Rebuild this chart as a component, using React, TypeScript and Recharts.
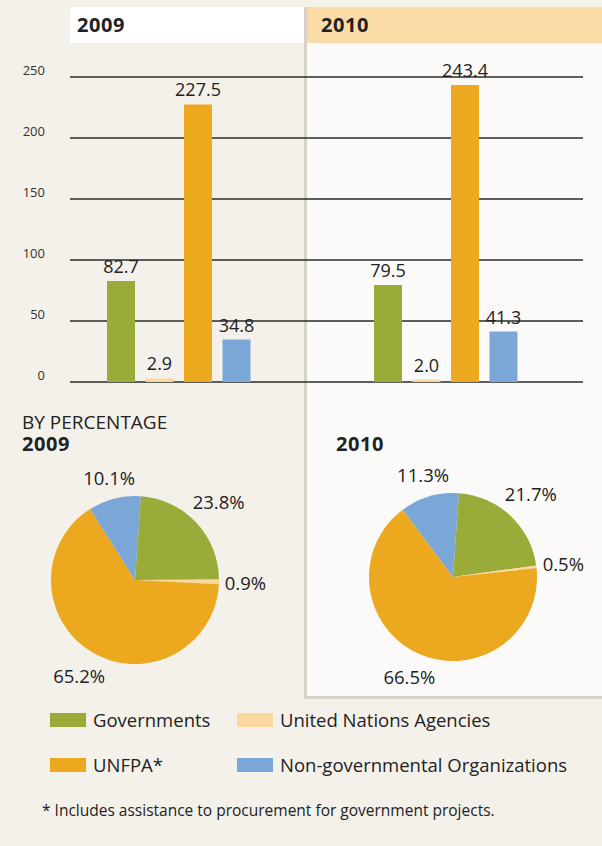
import { Bar, BarChart, CartesianGrid, Cell, LabelList, Pie, PieChart, XAxis, YAxis } from 'recharts';

const categories = ['2009', '2010'];
const governments = [82.7, 79.5];
const unAgencies = [2.9, 2.0];
const unfpa = [227.5, 243.4];
const ngos = [34.8, 41.3];
const yTicks = [0, 50, 100, 150, 200, 250];

const seriesKeys = ['governments', 'unAgencies', 'unfpa', 'ngos'];
const seriesNames = ['Governments', 'United Nations Agencies', 'UNFPA*', 'Non-governmental Organizations'];
const seriesColors = ['#9aab3a', '#fad79c', '#eca91f', '#7aa7d7'];

const pct2009 = [23.8, 0.9, 65.2, 10.1];
const pct2010 = [21.7, 0.5, 66.5, 11.3];

const FONT = '"Open Sans", sans-serif';
const INK = '#222';

const barData = categories.map((year, i) => ({
  year,
  governments: governments[i],
  unAgencies: unAgencies[i],
  unfpa: unfpa[i],
  ngos: ngos[i],
}));

const pieData = (pct: number[]) => pct.map((v, i) => ({ name: seriesNames[i], value: v }));

const RAD = Math.PI / 180;

function pieLabel(props: any) {
  const { cx, cy, midAngle, outerRadius, value } = props;
  const dx = Math.cos(midAngle * RAD);
  const dy = -Math.sin(midAngle * RAD);
  const txt = `${Number(value).toFixed(1)}%`;
  const w = txt.length * 9.6;
  const extent = Math.abs(dx) * (w / 2) + Math.abs(dy) * 9;
  const r = outerRadius + 7 + extent;
  return (
    <text
      x={cx + r * dx}
      y={cy + r * dy}
      textAnchor="middle"
      dominantBaseline="central"
      fontSize={18.5}
      fontFamily={FONT}
      fill={INK}
    >
      {txt}
    </text>
  );
}

function YTick({ x, y, payload }: any) {
  return (
    <text x={x} y={y - 2} textAnchor="end" fontSize={13} fontFamily={FONT} fill="#333">
      {payload.value}
    </text>
  );
}

function YearPie({ pct, cx, cy }: { pct: number[]; cx: number; cy: number }) {
  return (
    <Pie
      data={pieData(pct)}
      dataKey="value"
      cx={cx}
      cy={cy}
      outerRadius={84}
      startAngle={86}
      endAngle={-274}
      stroke="none"
      label={pieLabel}
      labelLine={false}
      isAnimationActive={false}
    >
      {pct.map((_, i) => (
        <Cell key={i} fill={seriesColors[i]} />
      ))}
    </Pie>
  );
}

const abs = (left: number, top: number, extra: any = {}) => ({ position: 'absolute' as const, left, top, ...extra });

export default function App() {
  return (
    <div style={abs(0, 0, { width: 602, height: 846, background: '#f4f1eb', fontFamily: FONT, color: INK, overflow: 'hidden' })}>
      {/* 2010 panel */}
      <div
        style={abs(304, 7, {
          width: 298,
          height: 689,
          background: '#fbfaf8',
          borderLeft: '3px solid #d6d2c6',
          borderBottom: '3px solid #d6d2c6',
        })}
      />
      <div style={abs(70, 7, { width: 234, height: 36, background: '#fff' })}>
        <span style={abs(7, 4, { fontSize: 20, fontWeight: 700, letterSpacing: 0.6 })}>2009</span>
      </div>
      <div style={abs(307, 7, { width: 295, height: 36, background: '#fbdba8' })}>
        <span style={abs(14, 4, { fontSize: 20, fontWeight: 700, letterSpacing: 0.6 })}>2010</span>
      </div>

      <div style={abs(0, 0)}>
        <BarChart
          width={602}
          height={400}
          data={barData}
          margin={{ top: 77, right: 19, bottom: 18, left: 0 }}
          barSize={28}
          barGap={10.5}
        >
          <CartesianGrid vertical={false} stroke="#2a2a2a" strokeWidth={1.5} />
          <XAxis dataKey="year" hide padding={{ left: -25, right: 4 }} />
          <YAxis
            width={70}
            domain={[0, 250]}
            ticks={yTicks}
            axisLine={false}
            tickLine={false}
            tickSize={0}
            tickMargin={25}
            tick={<YTick />}
          />
          {seriesKeys.map((k, i) => (
            <Bar key={k} dataKey={k} name={seriesNames[i]} fill={seriesColors[i]} isAnimationActive={false}>
              <LabelList
                dataKey={k}
                position="top"
                offset={8}
                formatter={(v: any) => Number(v).toFixed(1)}
                fontSize={18}
                fontFamily={FONT}
                fill={INK}
              />
            </Bar>
          ))}
        </BarChart>
      </div>

      <div style={abs(22, 412, { fontSize: 19, lineHeight: '20px' })}>BY PERCENTAGE</div>
      <div style={abs(22, 434, { fontSize: 20, fontWeight: 700, lineHeight: '20px', letterSpacing: 0.6 })}>2009</div>
      <div style={abs(336, 434, { fontSize: 20, fontWeight: 700, lineHeight: '20px', letterSpacing: 0.6 })}>2010</div>

      <div style={abs(0, 460)}>
        <PieChart width={300} height={240}>
          <YearPie pct={pct2009} cx={130} cy={115} />
        </PieChart>
      </div>
      <div style={abs(300, 460)}>
        <PieChart width={302} height={236}>
          <YearPie pct={pct2010} cx={148} cy={112} />
        </PieChart>
      </div>

      {/* legend */}
      {seriesNames.map((name, i) => {
        const col = i % 2;
        const row = Math.floor(i / 2);
        const left = col === 0 ? 50 : 237;
        const top = row === 0 ? 712 : 757;
        return (
          <div key={name} style={abs(left, top, { display: 'flex', alignItems: 'center', height: 15 })}>
            <div style={{ width: 36, height: 14, background: seriesColors[i] }} />
            <span style={{ marginLeft: 7, fontSize: 18.5, whiteSpace: 'nowrap' }}>{name}</span>
          </div>
        );
      })}

      <div style={abs(42, 799, { fontSize: 15.5, whiteSpace: 'nowrap' })}>
        * Includes assistance to procurement for government projects.
      </div>
    </div>
  );
}
